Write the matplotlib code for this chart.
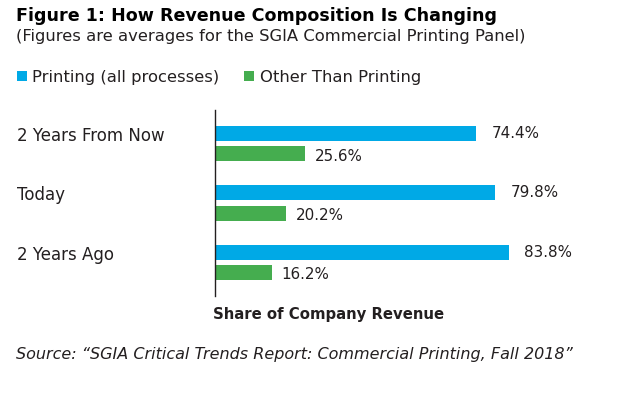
import matplotlib.pyplot as plt
from matplotlib.transforms import blended_transform_factory

# data
categories = ['2 Years From Now', 'Today', '2 Years Ago']
printing = [74.4, 79.8, 83.8]
other = [25.6, 20.2, 16.2]
series_names = ['Printing (all processes)', 'Other Than Printing']

blue = '#00a9e6'
green = '#45ad4f'
txt = '#231f20'

plt.rcParams['font.family'] = ['DejaVu Sans']

fig = plt.figure(figsize=(6.17, 3.94), dpi=100)
ax = fig.add_axes([215/617, 98/394, 386/617, 186/394])

pos = list(range(len(categories)))
off = 0.17
h = 0.254
b1 = ax.barh([p - off for p in pos], printing, height=h, color=blue, label=series_names[0])
b2 = ax.barh([p + off for p in pos], other, height=h, color=green, label=series_names[1])

# value labels
for p, v in zip(pos, printing):
    ax.annotate(f'{v:.1f}%', (v, p - off), xytext=(11, 0), textcoords='offset points',
                va='center', ha='left', fontsize=10.9, color=txt)
for p, v in zip(pos, other):
    ax.annotate(f'{v:.1f}%', (v, p + off + 0.04), xytext=(7, 0), textcoords='offset points',
                va='center', ha='left', fontsize=10.9, color=txt)

# category labels on the far left
tr = blended_transform_factory(fig.transFigure, ax.transData)
for p, c in zip(pos, categories):
    ax.text(17/617, p - off + 0.04, c, transform=tr, ha='left', va='center', fontsize=12, color=txt)

ax.set_xlim(0, 110)
ax.set_ylim(2.57, -0.57)
for s in ['top', 'right', 'bottom']:
    ax.spines[s].set_visible(False)
ax.spines['left'].set_color(txt)
ax.spines['left'].set_linewidth(1)
ax.set_xticks([])
ax.set_yticks([])

fig.text(329/617, 1 - 315/394, 'Share of Company Revenue', ha='center', va='center',
         fontsize=10.7, fontweight='bold', color=txt)

# title, subtitle, legend, source
fig.text(16/617, 1 - 16/394, 'Figure 1: How Revenue Composition Is Changing', ha='left', va='center',
         fontsize=12.6, fontweight='heavy', color='black')
fig.text(16/617, 1 - 37/394, '(Figures are averages for the SGIA Commercial Printing Panel)',
         ha='left', va='center', fontsize=11.8, color=txt)

fig.legend(handles=[b1, b2], labels=series_names, loc='center left',
           bbox_to_anchor=(2/617, 1 - 77.5/394), ncol=2, frameon=False,
           handlelength=0.6, handleheight=0.6, handletextpad=0.35, columnspacing=1.5,
           fontsize=11.8, labelcolor=txt)

fig.text(16/617, 1 - 354/394, 'Source: \u201cSGIA Critical Trends Report: Commercial Printing, Fall 2018\u201d',
         ha='left', va='center', fontsize=11.5, style='italic', color=txt)

fig.savefig('out.png', dpi=100)
